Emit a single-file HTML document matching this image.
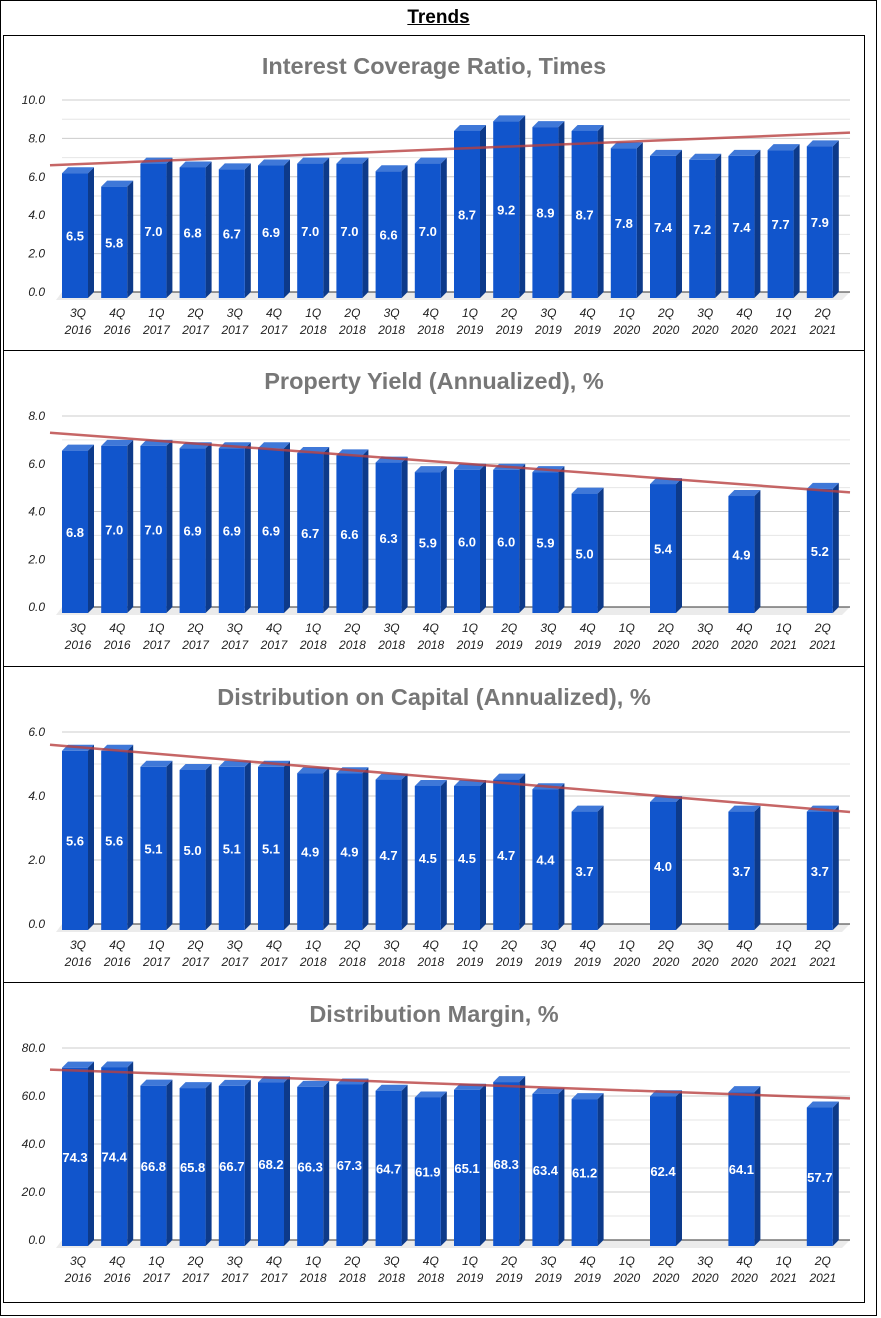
<!DOCTYPE html>
<html><head><meta charset="utf-8"><style>
body{margin:0;background:#fff;width:881px;height:1318px;overflow:hidden;font-family:"Liberation Sans",sans-serif}
#outer{position:absolute;left:0;top:0;width:875px;height:1314px;border:1px solid #000}
#ttl{position:absolute;left:0;top:7px;width:877px;text-align:center;font-weight:bold;font-size:19px;text-decoration:underline}
svg{position:absolute;left:0;top:0}
</style></head><body>
<div id="outer"></div>
<div id="ttl">Trends</div>
<svg id="s" width="881" height="1318"></svg>
<script>
const categories=["3Q|2016","4Q|2016","1Q|2017","2Q|2017","3Q|2017","4Q|2017","1Q|2018","2Q|2018","3Q|2018","4Q|2018","1Q|2019","2Q|2019","3Q|2019","4Q|2019","1Q|2020","2Q|2020","3Q|2020","4Q|2020","1Q|2021","2Q|2021"];
const icrValues=[6.5,5.8,7.0,6.8,6.7,6.9,7.0,7.0,6.6,7.0,8.7,9.2,8.9,8.7,7.8,7.4,7.2,7.4,7.7,7.9];
const yieldValues=[6.8,7.0,7.0,6.9,6.9,6.9,6.7,6.6,6.3,5.9,6.0,6.0,5.9,5.0,null,5.4,null,4.9,null,5.2];
const docValues=[5.6,5.6,5.1,5.0,5.1,5.1,4.9,4.9,4.7,4.5,4.5,4.7,4.4,3.7,null,4.0,null,3.7,null,3.7];
const marginValues=[74.3,74.4,66.8,65.8,66.7,68.2,66.3,67.3,64.7,61.9,65.1,68.3,63.4,61.2,null,62.4,null,64.1,null,57.7];
const icrTicks=[0,2,4,6,8,10];
const yieldTicks=[0,2,4,6,8];
const docTicks=[0,2,4,6];
const marginTicks=[0,20,40,60,80];
const icrTrend=[6.6,8.3];
const yieldTrend=[7.3,4.8];
const docTrend=[5.6,3.5];
const marginTrend=[71,59];

const NS="http://www.w3.org/2000/svg";
const svg=document.getElementById('s');
function mk(t,a,p){const e=document.createElementNS(NS,t);for(const k in a)e.setAttribute(k,a[k]);(p||svg).appendChild(e);return e;}

mk('rect',{x:3.5,y:35.5,width:861,height:1267,fill:'none',stroke:'#000','stroke-width':1});

const panels=[
 {title:"Interest Coverage Ratio, Times",ty:74,vals:icrValues,ticks:icrTicks,max:10,y0:292,ytop:100,trend:icrTrend,sep:350,name:'interest-coverage'},
 {title:"Property Yield (Annualized), %",ty:389,vals:yieldValues,ticks:yieldTicks,max:8,y0:607,ytop:416,trend:yieldTrend,sep:666,name:'property-yield'},
 {title:"Distribution on Capital (Annualized), %",ty:705,vals:docValues,ticks:docTicks,max:6,y0:924,ytop:732,trend:docTrend,sep:982,name:'distribution-on-capital'},
 {title:"Distribution Margin, %",ty:1022,vals:marginValues,ticks:marginTicks,max:80,y0:1240,ytop:1048,trend:marginTrend,sep:null,name:'distribution-margin'}
];
const x0=62,x1=850,step=39.2,firstC=75,bw=26,d=6;
const xc=i=>firstC+i*step;
panels.forEach(p=>{
 const g=mk('g',{});
 
 
 const y=v=>p.y0-(v/p.max)*(p.y0-p.ytop);
 const t=mk('text',{x:434,y:p.ty,'text-anchor':'middle','font-size':23.5,'font-weight':'bold',fill:'#777'},g);t.textContent=p.title;
 
 const tstep=p.ticks[1]-p.ticks[0];
 for(let k=0;k<p.ticks.length;k++){
  const v=p.ticks[k];
  mk('line',{x1:x0,x2:x1,y1:y(v),y2:y(v),stroke:v==0?'#333':'#ccc','stroke-width':1},g);
  if(k<p.ticks.length-1) mk('line',{x1:x0,x2:x1,y1:y(v+tstep/2),y2:y(v+tstep/2),stroke:'#e6e6e6','stroke-width':1},g);
  const lb=mk('text',{x:45,y:y(v)+4,'text-anchor':'end','font-size':12,'font-style':'italic',fill:'#222'},g);
  lb.textContent=v.toFixed(1);
  
 }
 mk('polygon',{points:`${x0-6},${p.y0+8} ${x1-8},${p.y0+8} ${x1},${p.y0} ${x0},${p.y0}`,fill:'#ebebeb'},g);
 mk('line',{x1:x0,x2:x1,y1:p.y0,y2:p.y0,stroke:'#333','stroke-width':1},g);
 categories.forEach((c,i)=>{
  const cx=xc(i),parts=c.split('|');
  const l=mk('text',{x:cx+3,y:p.y0+25,'text-anchor':'middle','font-size':12,'font-style':'italic',fill:'#222'},g);
  
  const a=mk('tspan',{x:cx+3},l);a.textContent=parts[0];
  const b=mk('tspan',{x:cx+3,dy:17},l);b.textContent=parts[1];
  const v=p.vals[i];
  if(v==null) return;
  const L=cx-bw/2, top=y(v)+d, bot=p.y0+d;
  const bar=mk('g',{},g);
  
  
  mk('polygon',{points:`${L+bw},${top} ${L+bw+d},${top-d} ${L+bw+d},${bot-d} ${L+bw},${bot}`,fill:'#0d3a8a'},bar);
  mk('polygon',{points:`${L},${top} ${L+d},${top-d} ${L+bw+d},${top-d} ${L+bw},${top}`,fill:'#3f78d8'},bar);
  mk('rect',{x:L,y:top,width:bw,height:bot-top,fill:'#1155cc'},bar);
  const vt=mk('text',{x:cx,y:(top+bot)/2+5,'text-anchor':'middle','font-size':13,'font-weight':'bold',fill:'#fff'},bar);
  vt.textContent=v.toFixed(1);
 });
 const tl=mk('line',{x1:50,x2:x1,y1:y(p.trend[0]),y2:y(p.trend[1]),stroke:'#b84040','stroke-opacity':0.8,'stroke-width':2.5},g);
 
 if(p.sep) mk('line',{x1:3.5,x2:864.5,y1:p.sep+.5,y2:p.sep+.5,stroke:'#000','stroke-width':1},g);
});
</script>
</body></html>
